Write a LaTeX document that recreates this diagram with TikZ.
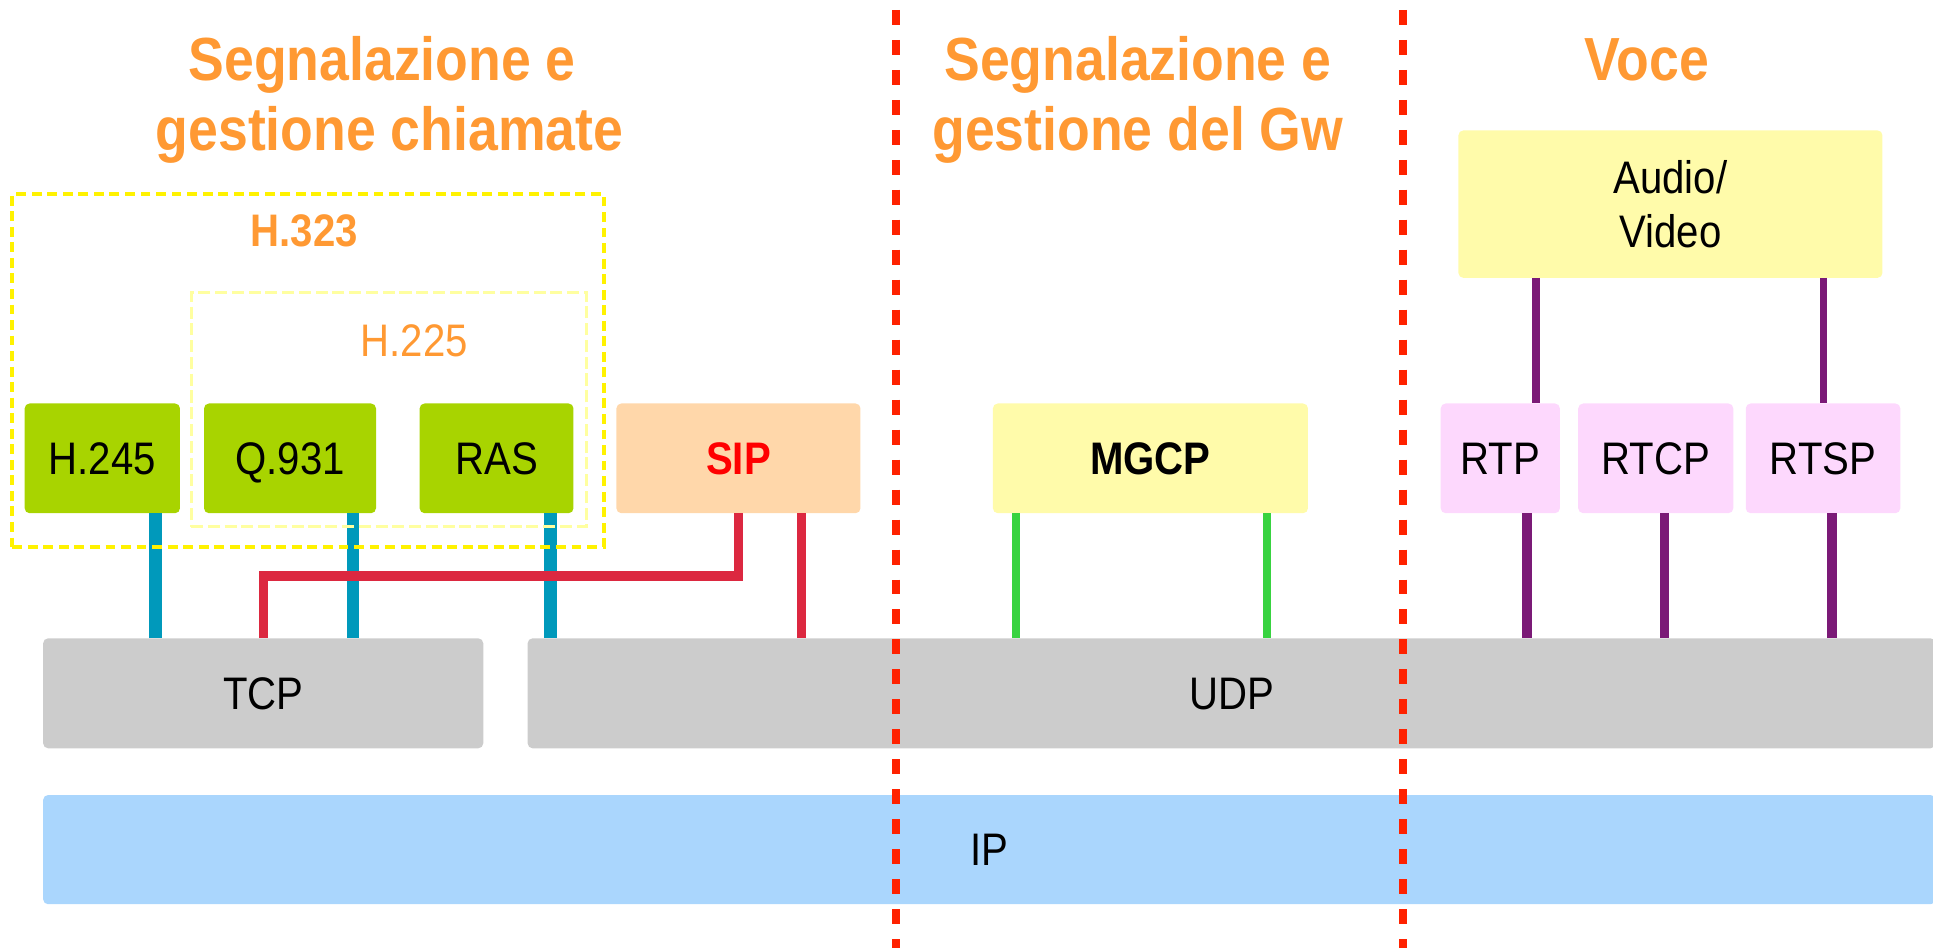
\documentclass[tikz,border=0pt]{standalone}
\usepackage{fontspec}
\setmainfont{Liberation Sans}[FakeStretch=0.88]
\usetikzlibrary{calc}
\definecolor{orangeT}{HTML}{FF9933}
\definecolor{yellowD}{HTML}{FFF200}
\definecolor{lyellowD}{HTML}{FFFFA0}
\definecolor{greenB}{HTML}{A8D400}
\definecolor{peachB}{HTML}{FFD7AA}
\definecolor{lyellowB}{HTML}{FFFBAA}
\definecolor{pinkB}{HTML}{FDD8FD}
\definecolor{grayB}{HTML}{CCCCCC}
\definecolor{blueB}{HTML}{AAD6FD}
\definecolor{tealL}{HTML}{0099BB}
\definecolor{redL}{HTML}{DC2840}
\definecolor{greenL}{HTML}{38D340}
\definecolor{purpleL}{HTML}{7B1A77}
\definecolor{dividerR}{HTML}{FF2200}
\definecolor{sipR}{HTML}{FF0000}
\begin{document}
\begin{tikzpicture}[x=0.5pt,y=-0.5pt,
  basebox/.style={rectangle, rounded corners=2pt, inner sep=0pt, outer sep=0pt,
    minimum height=44.5pt, font=\fontsize{18.5}{21.9}\selectfont},
  box/.style={basebox, text height=13.25pt, text depth=0pt},
  boldbox/.style={box, font=\fontsize{18.5}{21.9}\selectfont\bfseries},
  title/.style={anchor=base, text=orangeT, inner sep=0pt, font=\fontsize{24.7}{28}\selectfont\bfseries},
  grouplab/.style={anchor=base, text=orangeT, inner sep=0pt, font=\fontsize{18.5}{21.9}\selectfont},
  conteal/.style={draw=tealL, line width=5.15pt},
  conred/.style={draw=redL, line width=3.8pt, line join=miter},
  congreen/.style={draw=greenL, line width=3.25pt},
  conpurple/.style={draw=purpleL, line width=3.8pt},
  conpurplethin/.style={draw=purpleL, line width=3pt},
  divider/.style={draw=dividerR, line width=3.4pt, dash pattern=on 6.08pt off 6.08pt},
  groupbox/.style={rectangle, inner sep=0pt, outer sep=0pt}
]
\useasboundingbox (0,0) rectangle (1568,769);
\clip (0,0) rectangle (1568,769);

% titles
\node[title] (t1a) at (310,65.7) {Segnalazione e};
\node[title] (t1b) at (316,122.3) {gestione chiamate};
\node[title] (t2a) at (923,65.7) {Segnalazione e};
\node[title] (t2b) at (923,122.3) {gestione del Gw};
\node[title] (t3a) at (1336,65.7) {Voce};

% protocol boxes
\node[box, fill=greenB, minimum width=63pt] (h245) at (83,371.8) {H.245};
\node[box, fill=greenB, minimum width=69.75pt] (q931) at (235.25,371.8) {Q.931};
\node[box, fill=greenB, minimum width=62.4pt] (ras) at (402.8,371.8) {RAS};
\node[boldbox, fill=peachB, text=sipR, minimum width=99pt] (sip) at (599,371.8) {SIP};
\node[boldbox, fill=lyellowB, minimum width=127.8pt] (mgcp) at (933.2,371.8) {MGCP};
\node[basebox, fill=lyellowB, align=center, minimum width=172pt, minimum height=59.8pt] (av) at (1355,165.6) {Audio/\\Video};
\node[box, fill=pinkB, minimum width=48.35pt] (rtp) at (1217,371.8) {RTP};
\node[box, fill=pinkB, minimum width=62.9pt] (rtcp) at (1343.1,371.8) {RTCP};
\node[box, fill=pinkB, minimum width=62.7pt] (rtsp) at (1478.8,371.8) {RTSP};
\node[box, fill=grayB, minimum width=178.5pt, minimum height=44.6pt] (tcp) at (213.5,562.4) {TCP};
\node[box, fill=grayB, minimum width=571pt, minimum height=44.6pt] (udp) at (999,562.4) {UDP};
\node[box, fill=blueB, minimum width=767.5pt, minimum height=44.3pt] (ip) at (802.5,689.2) {IP};

% connectors
\coordinate (ct1) at ([xshift=21.65pt]h245.south);
\draw[conteal] (ct1) -- (ct1 |- tcp.north);
\coordinate (ct2) at ([xshift=25.5pt]q931.south);
\draw[conteal] (ct2) -- (ct2 |- tcp.north);
\coordinate (ct3) at ([xshift=21.85pt]ras.south);
\draw[conteal] (ct3) -- (ct3 |- udp.north);

\coordinate (bend) at (0,467.2);
\draw[conred] (sip.south) -- (sip.south |- bend) -- (tcp.north |- bend) -- (tcp.north);
\coordinate (cr2) at ([xshift=25.5pt]sip.south);
\draw[conred] (cr2) -- (cr2 |- udp.north);

\coordinate (cg1) at ([xshift=-54.6pt]mgcp.south);
\coordinate (cg2) at ([xshift=47.4pt]mgcp.south);
\draw[congreen] (cg1) -- (cg1 |- udp.north);
\draw[congreen] (cg2) -- (cg2 |- udp.north);

\coordinate (cp1) at ([xshift=-54.5pt]av.south);
\coordinate (cp2) at ([xshift=62.05pt]av.south);
\draw[conpurplethin] (cp1) -- (cp1 |- rtp.north);
\draw[conpurplethin] (cp2) -- (cp2 |- rtsp.north);
\coordinate (cp3) at ([xshift=10.85pt]rtp.south);
\coordinate (cp4) at ([xshift=3.6pt]rtcp.south);
\coordinate (cp5) at ([xshift=3.7pt]rtsp.south);
\draw[conpurple] (cp3) -- (cp3 |- udp.north);
\draw[conpurple] (cp4) -- (cp4 |- udp.north);
\draw[conpurple] (cp5) -- (cp5 |- udp.north);

% group boxes
\node[groupbox, draw=yellowD, line width=1.6pt, dash pattern=on 4pt off 2.3pt,
  minimum width=240pt, minimum height=143pt] (h323) at (250,300.45) {};
\node[groupbox, draw=lyellowD, line width=1.2pt, dash pattern=on 4.9pt off 1.9pt,
  minimum width=160.4pt, minimum height=95pt] (h225) at (315.4,332.15) {};
\node[grouplab, font=\fontsize{18.5}{21.9}\selectfont\bfseries] (h323lab) at (246.7,200.1) {H.323};
\node[grouplab] (h225lab) at (336,289.3) {H.225};

% dividers
\draw[divider] (727,8) -- (727,769);
\draw[divider] (1138,8) -- (1138,769);
\end{tikzpicture}
\end{document}
